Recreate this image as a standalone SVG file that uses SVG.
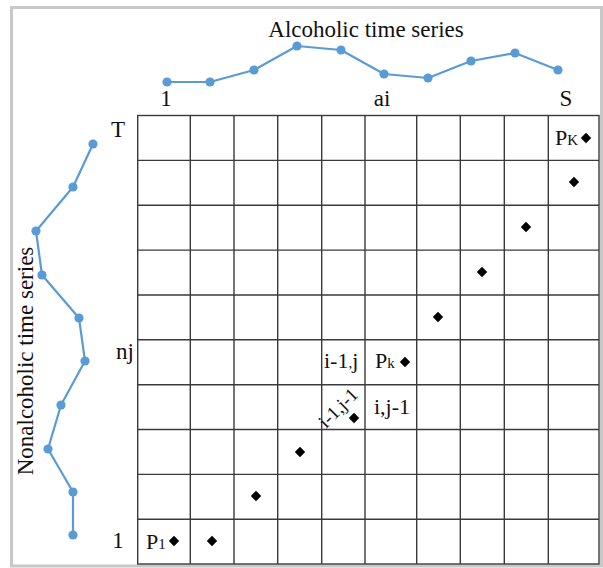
<svg xmlns="http://www.w3.org/2000/svg" width="603" height="568" viewBox="0 0 603 568">
<style>
text{font-family:"Liberation Serif","Times New Roman",serif;fill:#111}
.t{font-size:23px}
.c{font-size:22px}
.s{font-size:15px}
.g{stroke:#3a3a3a;stroke-width:1.4;fill:none}
.ser{stroke:#5b9bd5;stroke-width:2.2;fill:none;stroke-linejoin:round}
.pt{fill:#5b9bd5}
.d{fill:#000}
</style>
<defs>
<polygon id="dm" points="0,-5.2 5.2,0 0,5.2 -5.2,0"/>
<circle id="dot" r="4.6"/>
</defs>
<rect x="0" y="0" width="603" height="568" fill="#fff"/>
<rect x="11.5" y="7.5" width="590" height="558.5" fill="#fff" stroke="#c8c8c8" stroke-width="3"/>

<g id="grid" class="g">
<rect x="137.7" y="115.5" width="461.3" height="448.5"/>
<path d="M190.3,115.5V564M234,115.5V564M277.7,115.5V564M321.7,115.5V564M365,115.5V564M416.7,115.5V564M460.3,115.5V564M504.3,115.5V564M548.3,115.5V564"/>
<path d="M137.7,160.4H599M137.7,205.2H599M137.7,250.1H599M137.7,295H599M137.7,339.8H599M137.7,384.7H599M137.7,429.5H599M137.7,474.4H599M137.7,519.2H599"/>
</g>

<g id="connectors">
<polyline class="ser" points="167,82 210,82 254,70 297,46 341,50 384,74 428,78 471,61 515,53 558,70"/>
<polyline class="ser" points="93,144 73,187 36,231 42,275 79,318 85,361 61,405 48,449 73,492 73,535"/>
</g>

<g id="alcoholic-series" class="pt">
<use href="#dot" x="167" y="82"/><use href="#dot" x="210" y="82"/><use href="#dot" x="254" y="70"/><use href="#dot" x="297" y="46"/><use href="#dot" x="341" y="50"/><use href="#dot" x="384" y="74"/><use href="#dot" x="428" y="78"/><use href="#dot" x="471" y="61"/><use href="#dot" x="515" y="53"/><use href="#dot" x="558" y="70"/>
</g>
<g id="nonalcoholic-series" class="pt">
<use href="#dot" x="93" y="144"/><use href="#dot" x="73" y="187"/><use href="#dot" x="36" y="231"/><use href="#dot" x="42" y="275"/><use href="#dot" x="79" y="318"/><use href="#dot" x="85" y="361"/><use href="#dot" x="61" y="405"/><use href="#dot" x="48" y="449"/><use href="#dot" x="73" y="492"/><use href="#dot" x="73" y="535"/>
</g>

<g id="axis-labels">
<text class="t" x="366" y="37" text-anchor="middle">Alcoholic time series</text>
<text class="t" transform="translate(33,361) rotate(-90)" text-anchor="middle">Nonalcoholic time series</text>
<text class="t" x="166" y="106" text-anchor="middle">1</text>
<text class="t" x="382" y="106" text-anchor="middle">ai</text>
<text class="t" x="566" y="106" text-anchor="middle">S</text>
<text class="t" x="118" y="137" text-anchor="middle">T</text>
<text class="t" x="125" y="359" text-anchor="middle">nj</text>
<text class="t" x="118" y="548" text-anchor="middle">1</text>
</g>

<g id="cell-labels">
<text class="c" x="324" y="368">i-1<tspan class="s">,</tspan>j</text>
<text class="c" x="375" y="368">P<tspan class="s">k</tspan></text>
<text class="c" x="374" y="414">i,j-1</text>
<text class="c" style="font-size:19px" transform="translate(326,429) rotate(-45)">i-1,j-1</text>
<text class="c" x="146" y="549">P<tspan class="s">1</tspan></text>
<text class="c" x="555" y="145">P<tspan class="s">K</tspan></text>
</g>

<g id="path-points" class="d">
<use href="#dm" x="586" y="138"/>
<use href="#dm" x="574" y="182"/>
<use href="#dm" x="526" y="227"/>
<use href="#dm" x="482" y="272"/>
<use href="#dm" x="438" y="317"/>
<use href="#dm" x="405" y="362"/>
<use href="#dm" x="354" y="418"/>
<use href="#dm" x="300" y="452"/>
<use href="#dm" x="256" y="496"/>
<use href="#dm" x="212" y="541"/>
<use href="#dm" x="174" y="541"/>
</g>
</svg>
